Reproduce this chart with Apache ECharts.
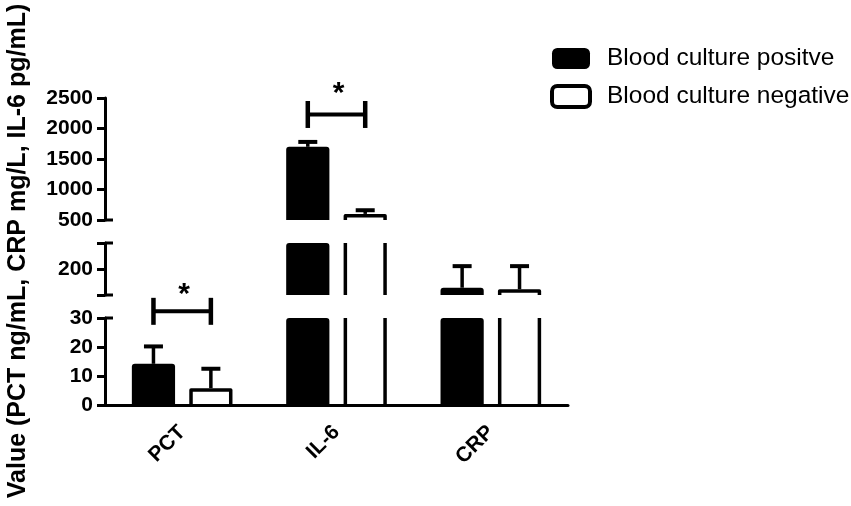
<!DOCTYPE html>
<html>
<head>
<meta charset="utf-8">
<script src="https://cdn.jsdelivr.net/npm/echarts@6/dist/echarts.min.js"></script>
<style>
  html, body { margin: 0; padding: 0; background: #fff; }
  #chart { width: 851px; height: 506px; }
</style>
</head>
<body>
<div id="chart"></div>
<script>
var categories = ['PCT', 'IL-6', 'CRP'];
var positiveMean = [14.2, 1700, 128];
var positiveSD = [6.0, 80, 83];
var negativeMean = [5.8, 600, 122];
var negativeSD = [6.7, 60, 89];

// broken y axis, pieces from top to bottom
var segMin = [500, 100, 0];
var segMax = [2500, 300, 30];
var segStep = [500, 100, 10];
var segLabels = [[500, 1000, 1500, 2000, 2500], [200], [0, 10, 20, 30]];

// significance brackets (levels are in the units of their axis piece)
var sigCategory = [0, 1];
var sigLevel = [32.3, 2230];
var sigStarLevel = [40.6, 2683];
var sigSegment = [2, 0];
var sigMark = ['*', '*'];

var FONT = '"Liberation Sans", Arial, Helvetica, sans-serif';
var POS = 'Blood culture positve';
var NEG = 'Blood culture negative';

function barRender(side, filled) {
  return function (params, api) {
    var cat = api.value(0), val = api.value(1), sd = api.value(2);
    var cs = params.coordSys;
    var band = api.size([1, 0])[0];
    var w = band * 0.28;
    var p = api.coord([cat, val]);
    var cx = p[0] + side * band * 0.186;
    var top = p[1];
    var errTop = api.coord([cat, val + sd])[1];
    var yMin = cs.y, yMax = cs.y + cs.height;
    var x0 = cx - w / 2, x1 = cx + w / 2;
    var kids = [];
    if (top < yMax) {
      var t = Math.max(top, yMin);
      if (filled) {
        kids.push({ type: 'rect', shape: { x: x0, y: t, width: w, height: yMax - t, r: [3, 3, 0, 0] }, style: { fill: '#000' } });
      } else {
        var lw = 3.5, h = lw / 2;
        if (top >= yMin) {
          kids.push({ type: 'polyline', shape: { points: [[x0 + h, yMax], [x0 + h, top + h], [x1 - h, top + h], [x1 - h, yMax]] },
            style: { stroke: '#000', lineWidth: lw, fill: 'none', lineJoin: 'round' } });
        } else {
          kids.push({ type: 'line', shape: { x1: x0 + h, y1: yMin, x2: x0 + h, y2: yMax }, style: { stroke: '#000', lineWidth: lw } });
          kids.push({ type: 'line', shape: { x1: x1 - h, y1: yMin, x2: x1 - h, y2: yMax }, style: { stroke: '#000', lineWidth: lw } });
        }
      }
    }
    // error bar (upper only)
    var eb = Math.min(top, yMax), et = Math.max(errTop, yMin);
    if (et < eb) {
      kids.push({ type: 'line', shape: { x1: cx, y1: et, x2: cx, y2: eb }, style: { stroke: '#000', lineWidth: 3.5 } });
      if (errTop >= yMin && errTop <= yMax) {
        kids.push({ type: 'line', shape: { x1: cx - 9.5, y1: errTop, x2: cx + 9.5, y2: errTop }, style: { stroke: '#000', lineWidth: 4 } });
      }
    }
    return { type: 'group', children: kids };
  };
}

function bracketRender(params, api) {
  var cat = api.value(0), lvl = api.value(1), star = api.value(2);
  var band = api.size([1, 0])[0];
  var p = api.coord([cat, lvl]);
  var sy = api.coord([cat, star])[1];
  var xa = p[0] - band * 0.186, xb = p[0] + band * 0.186, y = p[1];
  var mark = sigMark[api.value(3)] || '*';
  return { type: 'group', children: [
    { type: 'line', shape: { x1: xa, y1: y, x2: xb, y2: y }, style: { stroke: '#000', lineWidth: 4 } },
    { type: 'line', shape: { x1: xa, y1: y - 13.5, x2: xa, y2: y + 13.5 }, style: { stroke: '#000', lineWidth: 4.5 } },
    { type: 'line', shape: { x1: xb, y1: y - 13.5, x2: xb, y2: y + 13.5 }, style: { stroke: '#000', lineWidth: 4.5 } },
    { type: 'text', style: { text: mark, x: p[0] + 2, y: sy + 7, font: 'bold 30px ' + FONT, textAlign: 'center', textVerticalAlign: 'middle', fill: '#000' } }
  ] };
}

// short caps to the right of the axis where it is broken
function capRender(params, api) {
  var cs = params.coordSys;
  var y = api.coord([0, api.value(1)])[1];
  return { type: 'line', shape: { x1: cs.x, y1: y, x2: cs.x + 8, y2: y }, style: { stroke: '#000', lineWidth: 3 } };
}
var capValues = [[segMin[0]], [segMin[1], segMax[1]], [segMax[2]]];

var grids = [
  { left: 105, width: 463, top: 98, height: 122 },
  { left: 105, width: 463, top: 243, height: 52 },
  { left: 105, width: 463, top: 318, height: 87 }
];

var xAxes = grids.map(function (g, i) {
  return {
    type: 'category', gridIndex: i, data: categories, show: i === 2,
    axisLine: { lineStyle: { color: '#000', width: 3 } },
    axisTick: { alignWithLabel: true, length: 7, lineStyle: { color: '#000', width: 3 } },
    axisLabel: { rotate: 45, color: '#000', fontFamily: FONT, fontWeight: 'bold', fontSize: 21, margin: 24 }
  };
});

var yAxes = grids.map(function (g, i) {
  return {
    type: 'value', gridIndex: i, position: 'left', min: segMin[i], max: segMax[i], interval: segStep[i],
    axisLine: { show: true, lineStyle: { color: '#000', width: 3 } },
    axisTick: { show: true, length: 8, lineStyle: { color: '#000', width: 3 } },
    axisLabel: {
      color: '#000', fontFamily: FONT, fontWeight: 'bold', fontSize: 21, margin: 12,
      formatter: function (v) { return segLabels[i].indexOf(v) >= 0 ? String(v) : ''; }
    },
    splitLine: { show: false }
  };
});

var series = [];
grids.forEach(function (g, i) {
  series.push({
    name: POS, type: 'custom', xAxisIndex: i, yAxisIndex: i, encode: { x: 0, y: 1 },
    itemStyle: { color: '#000' },
    renderItem: barRender(-1, true),
    data: categories.map(function (c, k) { return [k, positiveMean[k], positiveSD[k]]; })
  });
  series.push({
    name: NEG, type: 'custom', xAxisIndex: i, yAxisIndex: i, encode: { x: 0, y: 1 },
    itemStyle: { color: '#fff', borderColor: '#000', borderWidth: 4 },
    renderItem: barRender(1, false),
    data: categories.map(function (c, k) { return [k, negativeMean[k], negativeSD[k]]; })
  });
  series.push({
    type: 'custom', xAxisIndex: i, yAxisIndex: i, encode: { x: 0, y: 1 }, clip: false, silent: true,
    renderItem: capRender,
    data: capValues[i].map(function (v) { return [0, v]; })
  });
});
sigCategory.forEach(function (c, k) {
  var s = sigSegment[k];
  series.push({
    type: 'custom', xAxisIndex: s, yAxisIndex: s, encode: { x: 0, y: 1 }, clip: false, silent: true,
    renderItem: bracketRender,
    data: [[c, sigLevel[k], sigStarLevel[k], k]]
  });
});

var chart = echarts.init(document.getElementById('chart'));
chart.setOption({
  animation: false,
  backgroundColor: '#fff',
  grid: grids,
  xAxis: xAxes,
  yAxis: yAxes,
  legend: {
    orient: 'vertical', left: 545, top: 41, itemWidth: 38, itemHeight: 21, itemGap: 13,
    textStyle: { fontFamily: FONT, fontSize: 24.5, color: '#000', padding: [0, 0, 0, 12] },
    data: [
      { name: POS, icon: 'roundRect', itemStyle: { color: '#000' } },
      { name: NEG, icon: 'roundRect', itemStyle: { color: '#fff', borderColor: '#000', borderWidth: 4 } }
    ]
  },
  graphic: [{
    type: 'text', x: 18, y: 251, rotation: Math.PI / 2,
    style: { text: 'Value (PCT ng/mL, CRP mg/L, IL-6 pg/mL)', font: 'bold 25px ' + FONT, textAlign: 'center', textVerticalAlign: 'middle', fill: '#000' }
  }],
  series: series
});
</script>
</body>
</html>
